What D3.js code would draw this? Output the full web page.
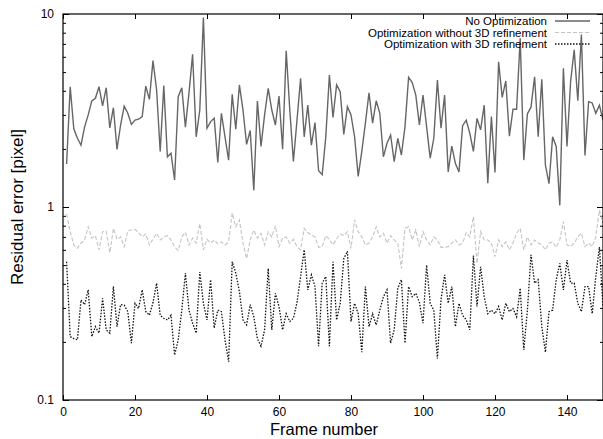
<!DOCTYPE html>
<html><head><meta charset="utf-8">
<script src="https://cdn.jsdelivr.net/npm/d3@7"></script>
<style>body{margin:0;background:#fff}svg{display:block}text{font-family:"Liberation Sans",Arial,Helvetica,sans-serif}</style>
</head><body><svg id="c" width="603" height="439"></svg>
<script>
const noOpt = [1.67,4.2,2.54,2.27,2.09,2.6,3.0,3.55,3.66,4.2,3.34,4.15,2.57,3.27,1.99,2.66,3.33,3.06,2.68,2.82,
2.85,2.94,4.23,3.61,5.73,4.04,1.94,4.26,1.82,1.90,1.38,3.73,4.15,2.59,3.9,6.18,2.31,3.18,9.6,2.56,
2.77,2.88,1.70,3.06,2.31,1.75,3.84,2.53,4.29,3.18,2.11,2.49,1.22,3.54,2.06,3.0,4.12,3.18,2.66,3.76,
1.99,6.45,3.18,1.72,2.82,4.64,2.31,3.37,2.09,2.74,1.54,1.47,2.31,4.83,2.91,4.29,3.96,2.38,3.31,3.0,
2.31,1.44,1.94,2.72,3.91,2.72,3.55,3.06,1.82,2.14,2.36,1.72,2.27,1.86,2.61,4.70,4.41,3.80,2.66,3.80,
2.61,1.79,2.27,4.55,2.56,3.80,1.52,2.07,1.68,1.52,2.64,2.82,2.41,1.94,2.88,2.51,3.37,1.33,2.94,1.51,
5.66,3.70,4.50,2.33,3.21,3.21,7.48,1.75,3.04,3.29,4.73,2.31,4.59,1.65,1.32,2.31,2.06,1.02,5.24,2.06,
4.46,6.53,3.55,7.82,1.85,3.51,3.46,3.06,3.37,2.82];
const optNo3D = [0.92,0.745,0.636,0.611,0.649,0.675,0.79,0.69,0.71,0.60,0.745,0.75,0.58,0.775,0.68,0.70,0.623,0.754,0.76,0.766,
0.737,0.70,0.725,0.636,0.68,0.731,0.675,0.70,0.71,0.675,0.62,0.595,0.70,0.74,0.636,0.69,0.65,0.82,0.60,0.68,
0.65,0.675,0.645,0.66,0.636,0.66,0.93,0.79,0.857,0.65,0.54,0.675,0.76,0.69,0.73,0.636,0.745,0.70,0.80,0.623,
0.69,0.70,0.65,0.68,0.623,0.60,0.775,0.737,0.716,0.70,0.618,0.623,0.71,0.68,0.636,0.685,0.725,0.71,0.745,0.61,
0.857,0.745,0.70,0.636,0.65,0.70,0.79,0.70,0.731,0.65,0.71,0.675,0.65,0.48,0.775,0.79,0.675,0.76,0.623,0.745,
0.675,0.636,0.70,0.675,0.618,0.618,0.623,0.65,0.675,0.636,0.65,0.737,0.70,0.89,0.51,0.745,0.675,0.675,0.65,0.553,
0.675,0.623,0.66,0.60,0.65,0.731,0.775,0.60,0.70,0.636,0.675,0.65,0.636,0.60,0.65,0.66,0.618,0.675,0.84,0.636,
0.623,0.65,0.70,0.731,0.623,0.65,0.623,0.70,0.965,0.823];
const opt3D = [0.52,0.213,0.208,0.205,0.33,0.312,0.372,0.213,0.24,0.222,0.336,0.231,0.222,0.387,0.24,0.312,0.31,0.287,0.197,0.317,
0.298,0.372,0.287,0.275,0.32,0.403,0.275,0.265,0.26,0.275,0.171,0.205,0.292,0.454,0.292,0.25,0.222,0.46,0.317,0.26,
0.42,0.236,0.292,0.287,0.205,0.158,0.52,0.454,0.365,0.26,0.245,0.312,0.27,0.208,0.19,0.231,0.48,0.231,0.357,0.305,
0.231,0.28,0.255,0.265,0.32,0.436,0.60,0.372,0.445,0.387,0.19,0.403,0.436,0.19,0.52,0.26,0.317,0.54,0.59,0.255,
0.317,0.28,0.177,0.387,0.24,0.28,0.245,0.292,0.343,0.372,0.197,0.231,0.38,0.42,0.197,0.387,0.343,0.357,0.32,0.25,
0.50,0.317,0.292,0.164,0.33,0.445,0.317,0.387,0.24,0.317,0.275,0.26,0.231,0.56,0.305,0.49,0.343,0.28,0.292,0.28,
0.305,0.26,0.317,0.287,0.298,0.27,0.38,0.182,0.292,0.565,0.403,0.42,0.24,0.177,0.287,0.292,0.42,0.51,0.372,0.53,
0.403,0.403,0.317,0.287,0.387,0.387,0.28,0.436,0.62,0.305];
const xTicks = [0,20,40,60,80,100,120,140];
const yTicks = [0.1,1,10];
const yTickLabels = ["0.1","1","10"];
const seriesNames = ["No Optimization","Optimization without 3D refinement","Optimization with 3D refinement"];

const svg = d3.select("#c");
const L=63, R=603, T=14, B=400;
const x = d3.scaleLinear().domain([0,150]).range([L,R]);
const y = d3.scaleLog().domain([0.1,10]).range([B,T]);
const minor = [];
[0.1,1].forEach(d=>{for(let k=2;k<=9;k++) minor.push(+(d*k).toFixed(3));});

function styleAxis(g){g.select(".domain").remove();g.selectAll("line").attr("stroke","#000").attr("stroke-width",1);
  g.selectAll("text").attr("fill","#000").style("font-size","12px");}

svg.append("g").attr("transform",`translate(0,${B})`)
  .call(d3.axisBottom(x).tickValues(xTicks).tickSize(-5).tickPadding(7).tickFormat(d3.format("d"))).call(styleAxis);
svg.append("g").attr("transform",`translate(0,${T})`)
  .call(d3.axisTop(x).tickValues(xTicks).tickSize(-5).tickFormat("")).call(styleAxis);
svg.append("g").attr("transform",`translate(${L},0)`)
  .call(d3.axisLeft(y).tickValues(yTicks).tickSize(-6).tickPadding(9).tickFormat((d,i)=>yTickLabels[i])).call(styleAxis);
svg.append("g").attr("transform",`translate(${L},0)`)
  .call(d3.axisLeft(y).tickValues(minor).tickSize(-3).tickFormat("")).call(styleAxis);
svg.append("g").attr("transform",`translate(${R},0)`)
  .call(d3.axisRight(y).tickValues(yTicks).tickSize(-6).tickFormat("")).call(styleAxis);
svg.append("g").attr("transform",`translate(${R},0)`)
  .call(d3.axisRight(y).tickValues(minor).tickSize(-3).tickFormat("")).call(styleAxis);

const styles = [
  {stroke:"#666", width:1.4, dash:null},
  {stroke:"#c4c4c4", width:1.1, dash:"4,2"},
  {stroke:"#111", width:1.3, dash:"1.5,1.5"}
];
const data = [noOpt,optNo3D,opt3D];
const line = d3.line().x((d,i)=>x(i+1)).y(d=>y(d));
data.forEach((s,k)=>{
  svg.append("path").datum(s).attr("d",line).attr("fill","none")
    .attr("stroke",styles[k].stroke).attr("stroke-width",styles[k].width)
    .attr("stroke-dasharray",styles[k].dash);
});

svg.append("rect").attr("x",L).attr("y",T).attr("width",R-L).attr("height",B-T)
  .attr("fill","none").attr("stroke","#000").attr("stroke-width",1.2);

// legend
const lg = svg.append("g");
seriesNames.forEach((n,k)=>{
  const yy = 21 + k*11.5;
  lg.append("text").attr("x",547).attr("y",yy).attr("dy","0.35em").attr("text-anchor","end")
    .style("font-size","11.5px").text(n);
  lg.append("line").attr("x1",555).attr("x2",590).attr("y1",yy).attr("y2",yy)
    .attr("stroke",styles[k].stroke).attr("stroke-width",styles[k].width).attr("stroke-dasharray",styles[k].dash);
});

svg.append("text").attr("x",(L+R)/2-9).attr("y",429).attr("dy","0.35em").attr("text-anchor","middle")
  .style("font-size","16.5px").text("Frame number");
svg.append("text").attr("transform",`translate(17,${(T+B)/2}) rotate(-90)`).attr("dy","0.35em")
  .attr("text-anchor","middle").style("font-size","17px").text("Residual error [pixel]");
</script></body></html>
